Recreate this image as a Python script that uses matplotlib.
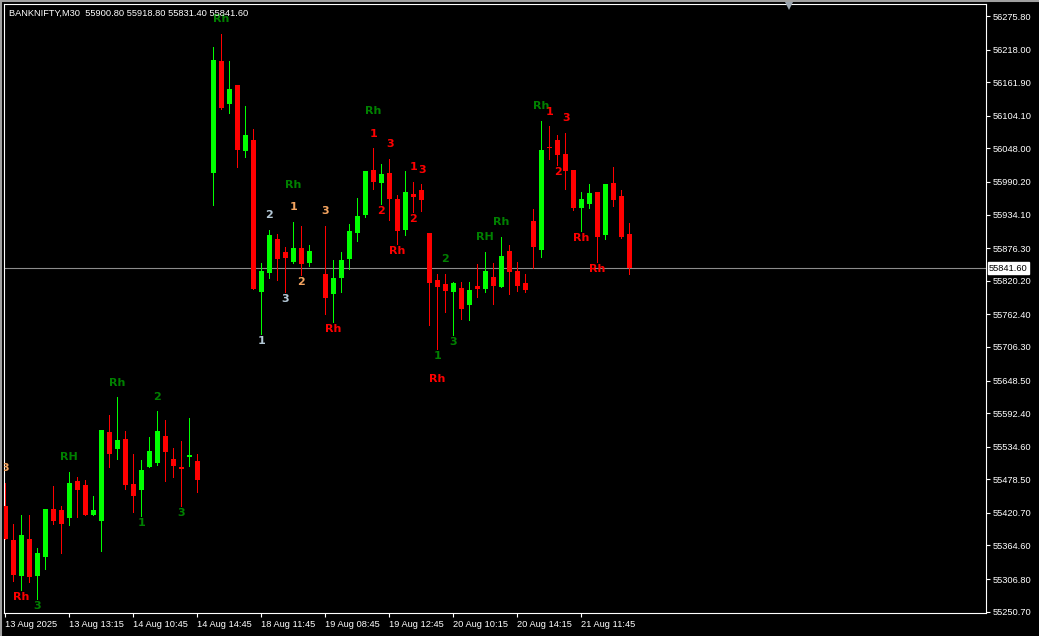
import numpy as np
import matplotlib
matplotlib.use('Agg')
import matplotlib.pyplot as plt
from matplotlib.lines import Line2D

nan = np.nan

# ---- data (30 min bars, BANKNIFTY) ----
opens = [55432.6, 55374.0, 55312.1, 55375.8, 55312.1, 55344.8, 55427.4, 55425.7, 55411.9, 55475.6,
         55468.7, 55417.1, 55406.7, 55559.9, 55530.7, 55547.9, 55470.4, 55460.1, 55499.7, 55506.6,
         55553.0, 55513.4, 55499.7, 55516.9, 55510.0, nan, 56006.1, 56198.4, 56124.9, 56157.1,
         56044.0, 56062.4, 55801.3, 55834.0, 55892.0, 55869.7, 55853.0, 55876.6, 55851.3, nan,
         55831.8, 55797.9, 55825.4, 55858.1, 55902.9, 55933.3, 56010.8, 55988.9, 56005.6, 55960.9,
         55908.0, 55969.5, 55976.4, 55902.4, 55821.5, 55814.6, 55801.3, 55807.7, 55779.0, 55811.2,
         55806.5, 55826.7, 55810.0, 55871.4, 55837.0, 55816.3, 55923.0, 55873.6, 56050.4, 56062.4,
         56038.3, 56010.8, 55945.9, 55952.8, 55972.9, 55899.4, 55988.4, 55966.0, 55900.8]
highs = [55472.7, 55401.6, 55417.1, 55417.1, 55360.3, 55427.4, 55467.0, 55432.6, 55491.1, 55482.5,
         55477.3, 55449.8, 55563.3, 55589.2, 55620.1, 55561.6, 55522.0, 55511.7, 55551.3, 55596.0,
         55580.6, 55532.4, 55544.4, 55584.0, 55522.0, nan, 56222.5, 56244.8, 56198.4, 56157.1,
         56120.9, 56081.3, 55850.7, 55907.5, 55900.6, 55878.3, 55921.3, 55914.4, 55881.7, nan,
         55914.4, 55855.9, 55869.7, 55917.9, 55962.6, 56009.1, 56048.6, 56021.1, 56029.7, 55967.8,
         56009.1, 55990.1, 55986.7, 55902.4, 55831.8, 55831.8, 55818.0, 55818.0, 55818.0, 55849.0,
         55869.7, 55850.7, 55895.5, 55881.7, 55852.5, 55831.8, 55943.7, 56095.1, 56086.5, 56071.0,
         56074.5, 56010.8, 55972.9, 55986.7, 55972.9, 55986.7, 56015.9, 55976.4, 55918.8]
lows = [55375.8, 55304.0, 55288.0, 55302.3, 55272.5, 55324.1, 55401.6, 55351.7, 55399.9, 55413.6,
        55417.1, 55417.1, 55355.1, 55499.7, 55513.4, 55461.8, 55422.2, 55415.3, 55499.7, 55503.1,
        55475.6, 55482.5, 55432.6, 55501.4, 55456.7, nan, 55951.1, 56115.8, 56109.4, 56016.5,
        56033.7, 55806.5, 55729.1, 55825.4, 55822.0, 55801.3, 55851.3, 55830.6, 55846.1, nan,
        55763.5, 55749.7, 55801.3, 55840.9, 55889.1, 55930.4, 55978.6, 55952.8, 55925.3, 55884.0,
        55899.4, 55939.0, 55940.7, 55744.6, 55703.3, 55766.9, 55727.3, 55754.9, 55753.2, 55792.7,
        55801.3, 55780.7, 55810.0, 55797.9, 55803.1, 55801.3, 55842.7, 55861.6, 56030.2, 56019.9,
        55978.6, 55942.5, 55906.3, 55945.9, 55853.0, 55892.6, 55949.3, 55894.3, 55831.4]
closes = [55375.8, 55313.8, 55382.7, 55310.9, 55351.7, 55427.4, 55406.7, 55401.6, 55472.1, 55460.1,
          55417.1, 55425.7, 55563.3, 55522.0, 55546.1, 55468.7, 55449.8, 55494.5, 55527.2, 55561.6,
          55525.5, 55501.4, 55496.2, 55520.3, 55477.3, nan, 56200.1, 56118.0, 56150.2, 56045.7,
          56071.0, 55806.5, 55837.0, 55898.9, 55858.1, 55859.9, 55876.6, 55849.5, 55871.4, nan,
          55791.0, 55824.9, 55855.9, 55905.8, 55931.6, 56009.1, 55990.6, 56003.9, 55961.4, 55906.3,
          55972.9, 55964.8, 55959.7, 55816.8, 55810.0, 55803.1, 55816.3, 55772.1, 55804.3, 55806.5,
          55837.0, 55811.7, 55862.8, 55835.8, 55811.7, 55804.8, 55878.8, 56045.2, 56048.6, 56036.6,
          56009.6, 55945.9, 55960.9, 55971.2, 55896.0, 55986.7, 55959.7, 55896.0, 55841.6]

date_ticks = [0, 8, 16, 24, 32, 40, 48, 56, 64, 72]
date_labels = ['13 Aug 2025', '13 Aug 13:15', '14 Aug 10:45', '14 Aug 14:45', '18 Aug 11:45',
               '19 Aug 08:45', '19 Aug 12:45', '20 Aug 10:15', '20 Aug 14:15', '21 Aug 11:45']
price_ticks = [56275.80, 56218.00, 56161.90, 56104.10, 56048.00, 55990.20, 55934.10, 55876.30,
               55820.20, 55762.40, 55706.30, 55648.50, 55592.40, 55534.60, 55478.50, 55420.70,
               55364.60, 55306.80, 55250.70]

# swing markers drawn by the indicator
lbl_text = ['3', 'Rh', '3', 'RH', 'Rh', '2', '1', '3', 'Rh', 'Rh', '1', '2', '3', '2', '3', '1',
            'Rh', 'Rh', '1', '3', '2', '1', '3', '2', 'Rh', '2', 'Rh', 'RH', '3', '1', 'Rh', 'Rh',
            '1', '3', '2', 'Rh', 'Rh']
lbl_x = [0, 2, 4, 8, 14, 19, 17, 22, 27, 36, 36, 33, 40, 37, 35, 32,
         41, 46, 46, 48.1, 47, 51, 52.1, 51, 49, 55, 62, 60, 56, 54, 54, 67,
         68, 70.1, 69.1, 72, 74]
lbl_y = [55498.0, 55276.0, 55260.5, 55516.9, 55644.2, 55620.1, 55403.3, 55420.5, 56270.6, 55985.0,
         55947.1, 55933.3, 55940.2, 55818.0, 55788.8, 55716.5, 55737.2, 56112.3, 56072.7, 56055.5,
         55940.2, 56015.9, 56010.8, 55926.5, 55871.4, 55857.6, 55921.3, 55895.5, 55714.8, 55690.7,
         55651.1, 56120.9, 56110.6, 56100.3, 56007.3, 55893.8, 55840.4]
lbl_kind = ['o', 'r', 'g', 'g', 'g', 'g', 'g', 'g', 'g', 'g', 'o', 's', 'o', 'o', 's', 's',
            'r', 'g', 'r', 'r', 'r', 'r', 'r', 'r', 'r', 'g', 'g', 'g', 'g', 'g', 'r', 'g',
            'r', 'r', 'r', 'r', 'r']

KIND_COLORS = {'g': '#008000', 'r': '#ff0000', 'o': '#f4a460', 's': '#b4c8d6'}
BULL, BEAR = '#00ff00', '#ff0000'
FONT = 'Liberation Sans'

W, H = 1039, 636
fig = plt.figure(figsize=(W / 100, H / 100), dpi=100, facecolor='black')
ax = fig.add_axes([4 / W, (H - 613) / H, (986 - 4) / W, (613 - 4) / H], facecolor='black')

o = np.array(opens)
h = np.array(highs)
l = np.array(lows)
c = np.array(closes)
x = np.arange(len(o))
ok = ~np.isnan(o)
up = c >= o
cols = np.where(up, BULL, BEAR)

# wicks (1px, crisp) then bodies (5px)
ax.vlines(x[ok], l[ok], h[ok], colors=cols[ok], linewidth=0.72, antialiased=False, zorder=2)
body_lo = np.minimum(o, c)
body_h = np.maximum(np.abs(c - o), 1.5)
ax.bar(x[ok], body_h[ok], bottom=body_lo[ok], width=0.64, color=cols[ok],
       linewidth=0, zorder=3)

# last price line + label
last = closes[-1]
ax.axhline(last, color='#8c8c8c', linewidth=0.8, zorder=1)
ax.annotate('%.2f' % last, xy=(1, last), xycoords=('axes fraction', 'data'),
            xytext=(3, 0), textcoords='offset pixels', ha='left', va='center',
            fontsize=6.7, family=FONT, color='black', annotation_clip=False,
            bbox=dict(boxstyle='square,pad=0.15', fc='white', ec='white'))

for t, xi, yi, k in zip(lbl_text, lbl_x, lbl_y, lbl_kind):
    ax.text(xi, yi, t, color=KIND_COLORS[k], fontsize=8, fontweight='bold',
            ha='center', va='center', clip_on=True, zorder=4)

ax.set_xlim(-0.1625, 122.59)
ax.set_ylim(55248.4, 56296.5)

for s in ax.spines.values():
    s.set_color('white')
    s.set_linewidth(0.8)

ax.yaxis.tick_right()
ax.set_yticks(price_ticks)
ax.set_yticklabels(['%.2f' % p for p in price_ticks], family=FONT)
ax.set_xticks(date_ticks)
ax.set_xticklabels(date_labels, family=FONT, ha='left')
ax.tick_params(colors='white', labelsize=6.7, length=3, width=0.8, pad=2)

# chart header
fig.text(9 / W, 1 - 13 / H, 'BANKNIFTY,M30  55900.80 55918.80 55831.40 55841.60',
         color='white', fontsize=6.7, family=FONT, va='center', ha='left')

# window frame + scroll marker
fig.add_artist(Line2D([0, 1], [1 - 0.5 / H, 1 - 0.5 / H], color='#a0a0a0', lw=1.5))
fig.add_artist(Line2D([0.5 / W, 0.5 / W], [0, 1], color='#a0a0a0', lw=1.5))
fig.add_artist(Line2D([789 / W], [1 - 6 / H], marker='v', markersize=6, color='#9aa4ae',
                      markeredgewidth=0))

fig.savefig('out.png', dpi=100, facecolor='black')
